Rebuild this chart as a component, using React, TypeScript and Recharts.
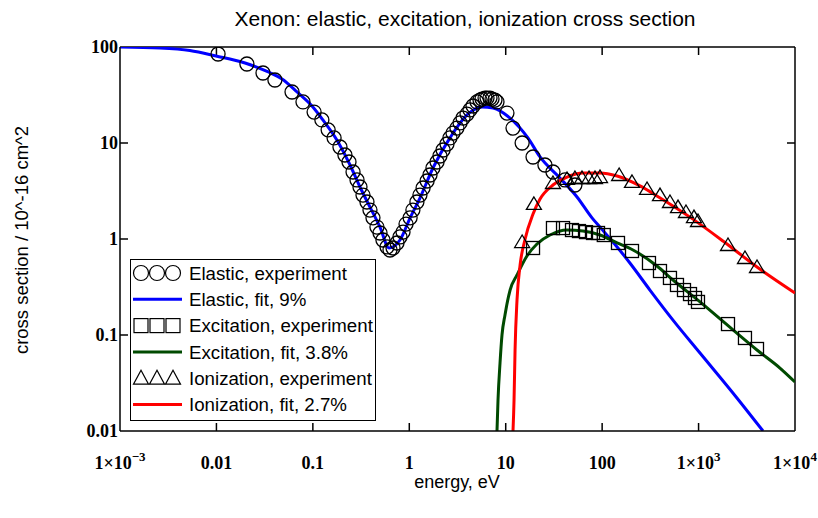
import React from 'react'
import { ComposedChart, Line, Scatter, XAxis, YAxis, Legend, ReferenceLine } from 'recharts'

// energy in eV, cross section in 10^-16 cm^2
const elasticFitE = [0.001, 0.0026, 0.0053, 0.0099, 0.0198, 0.0335, 0.0479, 0.0685, 0.1, 0.127, 0.178, 0.243, 0.308, 0.391, 0.497, 0.616, 0.801, 1.02, 1.29, 1.76, 2.64, 3.97, 5.68, 7.38, 11.1, 17.0, 22.7, 36.5, 54.9, 78.5, 95, 143, 194, 313, 543, 1035, 2500, 4660]
const elasticFitS = [100, 97.6, 91.9, 80.6, 68.1, 55.6, 46.4, 34.0, 23.7, 17.4, 10.7, 5.9, 3.48, 2.15, 1.33, 0.806, 0.976, 1.66, 2.67, 5.49, 11.3, 19.6, 23.7, 23.2, 18.2, 11.3, 7.15, 4.32, 2.74, 1.66, 1.33, 0.826, 0.562, 0.294, 0.143, 0.0649, 0.0221, 0.01]

const elasticExpE = [0.0104, 0.0207, 0.0304, 0.0404, 0.0608, 0.079, 0.103, 0.124, 0.144, 0.166, 0.191, 0.215, 0.237, 0.261, 0.287, 0.308, 0.331, 0.364, 0.391, 0.42, 0.462, 0.497, 0.533, 0.588, 0.631, 0.678, 0.746, 0.801, 0.861, 0.925, 1.02, 1.09, 1.2, 1.29, 1.39, 1.53, 1.64, 1.76, 1.94, 2.08, 2.24, 2.46, 2.64, 2.84, 3.12, 3.36, 3.61, 3.97, 4.26, 4.58, 5.04, 5.41, 5.68, 6.1, 6.4, 6.87, 7.21, 7.74, 8.12, 10.3, 11.9, 14.8, 19.2, 25.5, 30.9, 41.2, 52.2]
const elasticExpS = [84.5, 66.5, 53.6, 45.3, 34.0, 26.8, 21.0, 17.4, 13.7, 11.3, 9.09, 7.5, 6.34, 4.99, 4.12, 3.48, 2.87, 2.43, 2.0, 1.66, 1.33, 1.155, 0.976, 0.826, 0.768, 0.806, 0.909, 1.05, 1.18, 1.43, 1.66, 2.0, 2.43, 2.87, 3.4, 4.02, 4.64, 5.49, 6.34, 7.32, 8.45, 9.76, 11.3, 12.7, 14.3, 16.2, 18.2, 20.0, 22.1, 24.3, 26.8, 28.0, 28.7, 29.4, 29.4, 29.4, 28.7, 28.0, 26.8, 20.5, 14.3, 10.0, 7.15, 5.9, 4.99, 4.12, 3.65]

const excFitE = [8.12, 8.32, 8.73, 9.15, 9.83, 11.1, 13.1, 16.6, 21.1, 28.8, 43.2, 63.2, 95, 143, 209, 370, 543, 1035, 2275, 4036, 6983, 10000]
const excFitS = [0.01, 0.021, 0.0511, 0.1, 0.162, 0.294, 0.422, 0.665, 0.887, 1.1, 1.24, 1.21, 1.1, 0.909, 0.768, 0.523, 0.374, 0.221, 0.113, 0.0698, 0.0453, 0.0324]

const excExpE = [19.2, 30.9, 39.3, 48.7, 57.5, 68.0, 80.4, 90.6, 104, 146, 204, 306, 398, 505, 597, 706, 815, 918, 986, 2019, 3028, 4036]
const excExpS = [0.806, 1.3, 1.3, 1.24, 1.21, 1.18, 1.155, 1.155, 1.1, 0.909, 0.75, 0.562, 0.464, 0.393, 0.332, 0.294, 0.267, 0.243, 0.221, 0.13, 0.0931, 0.0715]

const ionFitE = [11.9, 12.2, 12.5, 13.1, 14.1, 15.8, 19.2, 22.7, 30.9, 43.2, 63.2, 95, 143, 247, 370, 815, 1791, 4036, 10000]
const ionFitS = [0.01, 0.021, 0.0698, 0.232, 0.536, 0.976, 1.82, 2.61, 3.65, 4.42, 4.87, 4.87, 4.53, 3.57, 2.81, 1.69, 0.953, 0.511, 0.274]

const ionExpE = [14.8, 19.6, 30.9, 43.2, 52.2, 61.8, 73.1, 84.3, 95, 150, 204, 292, 398, 505, 612, 740, 896, 986, 2019, 3028, 4036]
const ionExpS = [0.93, 2.32, 3.83, 4.22, 4.32, 4.32, 4.32, 4.32, 4.42, 4.64, 3.93, 3.32, 2.87, 2.43, 2.15, 1.91, 1.69, 1.54, 0.866, 0.634, 0.511]

const xTicks = [0.001, 0.01, 0.1, 1, 10, 100, 1000, 10000]
const xTickBase = ['1×10', '0.01', '0.1', '1', '10', '100', '1×10', '1×10']
const xTickSup = ['−3', '', '', '', '', '', '3', '4']
const yTicks = [0.01, 0.1, 1, 10, 100]

const legendLabels = [
  'Elastic, experiment',
  'Elastic, fit, 9%',
  'Excitation, experiment',
  'Excitation, fit, 3.8%',
  'Ionization, experiment',
  'Ionization, fit, 2.7%',
]

const zip = (e: number[], s: number[]) => e.map((x, i) => ({ x, y: s[i] }))

const BLUE = '#0000ff'
const GREEN = '#004a00'
const RED = '#ff0000'
const SANS = '"Liberation Sans", Arial, sans-serif'
const SERIF = '"Liberation Serif", "Times New Roman", serif'

const circle = (p: any) => <circle cx={p.cx} cy={p.cy} r={7} fill="none" stroke="#000" strokeWidth={1.3} />
const square = (p: any) => <rect x={p.cx - 6.5} y={p.cy - 6.5} width={13} height={13} fill="none" stroke="#000" strokeWidth={1.3} />
const triangle = (p: any) => (
  <polygon
    points={`${p.cx},${p.cy - 7} ${p.cx - 7.5},${p.cy + 5.5} ${p.cx + 7.5},${p.cy + 5.5}`}
    fill="none"
    stroke="#000"
    strokeWidth={1.3}
  />
)

// inward tick marks at both ends of a reference line
const TICK = 8
const vTick = (p: any) => {
  const lo = Math.max(p.y1, p.y2)
  const hi = Math.min(p.y1, p.y2)
  return (
    <g>
      <line x1={p.x1} x2={p.x1} y1={lo} y2={lo - TICK} stroke="#000" strokeWidth={1.5} />
      <line x1={p.x1} x2={p.x1} y1={hi} y2={hi + TICK} stroke="#000" strokeWidth={1.5} />
    </g>
  )
}
const hTick = (p: any) => {
  const l = Math.min(p.x1, p.x2)
  const r = Math.max(p.x1, p.x2)
  return (
    <g>
      <line x1={l} x2={l + TICK} y1={p.y1} y2={p.y1} stroke="#000" strokeWidth={1.5} />
      <line x1={r} x2={r - TICK} y1={p.y1} y2={p.y1} stroke="#000" strokeWidth={1.5} />
    </g>
  )
}

function XTick(props: any) {
  const { x, y, payload } = props
  const i = xTicks.findIndex(t => Math.abs(Math.log10(t) - Math.log10(payload.value)) < 1e-6)
  if (i < 0) return null
  return (
    <text x={x} y={y + 13} textAnchor="middle" fontFamily={SERIF} fontWeight="bold" fontSize={18} fill="#000">
      <tspan>{xTickBase[i]}</tspan>
      {xTickSup[i] && (
        <tspan dy={-8} fontSize={13}>
          {xTickSup[i]}
        </tspan>
      )}
    </text>
  )
}

function LegendBox() {
  const rowY = (i: number) => 14 + i * 26.3
  return (
    <svg width={246} height={162} style={{ display: 'block' }}>
      <rect x={0.5} y={0.5} width={245} height={161} fill="#fff" stroke="#000" strokeWidth={1} />
      {legendLabels.map((label, i) => {
        const cy = rowY(i)
        let sym: React.ReactNode
        if (i % 2 === 1) {
          const c = i === 1 ? BLUE : i === 3 ? GREEN : RED
          sym = <line x1={3} x2={52} y1={cy} y2={cy} stroke={c} strokeWidth={3} />
        } else {
          const xs = [11, 27, 43]
          sym = xs.map(cx =>
            i === 0 ? (
              <circle key={cx} cx={cx} cy={cy} r={7.5} fill="none" stroke="#000" strokeWidth={1.2} />
            ) : i === 2 ? (
              <rect key={cx} x={cx - 7} y={cy - 7} width={14} height={14} fill="none" stroke="#000" strokeWidth={1.2} />
            ) : (
              <polygon
                key={cx}
                points={`${cx},${cy - 8} ${cx - 7.5},${cy + 6} ${cx + 7.5},${cy + 6}`}
                fill="none"
                stroke="#000"
                strokeWidth={1.2}
              />
            )
          )
        }
        return (
          <g key={label}>
            {sym}
            <text x={59} y={cy} dy="0.36em" fontFamily={SANS} fontSize={18.7} fill="#000">
              {label}
            </text>
          </g>
        )
      })}
    </svg>
  )
}

export default function App() {
  return (
    <div style={{ position: 'absolute', left: 0, top: 0, width: 818, height: 518, background: '#fff' }}>
      <div
        style={{
          position: 'absolute',
          left: 165,
          width: 600,
          top: 7,
          textAlign: 'center',
          fontFamily: SANS,
          fontSize: 21,
          lineHeight: '24px',
        }}
      >
        Xenon: elastic, excitation, ionization cross section
      </div>
      <ComposedChart width={818} height={518} margin={{ top: 47, right: 23, bottom: 57, left: 40 }}>
        <XAxis
          xAxisId="b"
          type="number"
          scale="log"
          dataKey="x"
          domain={[0.001, 10000]}
          ticks={xTicks}
          interval={0}
          allowDataOverflow
          height={30}
          stroke="#000"
          strokeWidth={1.5}
          tickLine={false}
          tickSize={0}
          tickMargin={25}
          tick={XTick}
        />
        <YAxis
          yAxisId="l"
          type="number"
          scale="log"
          dataKey="y"
          domain={[0.01, 100]}
          ticks={yTicks}
          interval={0}
          allowDataOverflow
          width={80}
          stroke="#000"
          strokeWidth={1.5}
          tickLine={false}
          tickSize={0}
          tickMargin={2}
          tick={{ fill: '#000', fontFamily: SERIF, fontWeight: 'bold', fontSize: 18 }}
        />

        {/* frame: top and right edges */}
        <ReferenceLine xAxisId="b" yAxisId="l" y={100} stroke="#000" strokeWidth={1.5} />
        <ReferenceLine xAxisId="b" yAxisId="l" x={10000} stroke="#000" strokeWidth={1.5} />
        {xTicks.slice(1, -1).map(t => (
          <ReferenceLine key={`xt${t}`} xAxisId="b" yAxisId="l" x={t} shape={vTick} />
        ))}
        {yTicks.slice(1, -1).map(t => (
          <ReferenceLine key={`yt${t}`} xAxisId="b" yAxisId="l" y={t} shape={hTick} />
        ))}

        <Scatter xAxisId="b" yAxisId="l" data={zip(elasticExpE, elasticExpS)} shape={circle} isAnimationActive={false} />
        <Scatter xAxisId="b" yAxisId="l" data={zip(excExpE, excExpS)} shape={square} isAnimationActive={false} />
        <Scatter xAxisId="b" yAxisId="l" data={zip(ionExpE, ionExpS)} shape={triangle} isAnimationActive={false} />

        <Line xAxisId="b" yAxisId="l" data={zip(elasticFitE, elasticFitS)} dataKey="y" type="monotone" stroke={BLUE} strokeWidth={3} dot={false} isAnimationActive={false} />
        <Line xAxisId="b" yAxisId="l" data={zip(excFitE, excFitS)} dataKey="y" type="monotone" stroke={GREEN} strokeWidth={3} dot={false} isAnimationActive={false} />
        <Line xAxisId="b" yAxisId="l" data={zip(ionFitE, ionFitS)} dataKey="y" type="monotone" stroke={RED} strokeWidth={3} dot={false} isAnimationActive={false} />

        <Legend
          layout="vertical"
          align="center"
          verticalAlign="middle"
          content={() => <LegendBox />}
          wrapperStyle={{ left: 130, top: 259, width: 246, height: 162 }}
        />
      </ComposedChart>
      <div
        style={{
          position: 'absolute',
          left: 357,
          width: 200,
          top: 470,
          textAlign: 'center',
          fontFamily: SANS,
          fontSize: 18,
          lineHeight: '24px',
        }}
      >
        energy, eV
      </div>
      <div
        style={{
          position: 'absolute',
          left: 22 - 160,
          top: 240 - 12,
          width: 320,
          height: 24,
          textAlign: 'center',
          fontFamily: SANS,
          fontSize: 18.5,
          lineHeight: '24px',
          transform: 'rotate(-90deg)',
        }}
      >
        cross section / 10^-16 cm^2
      </div>
    </div>
  )
}
